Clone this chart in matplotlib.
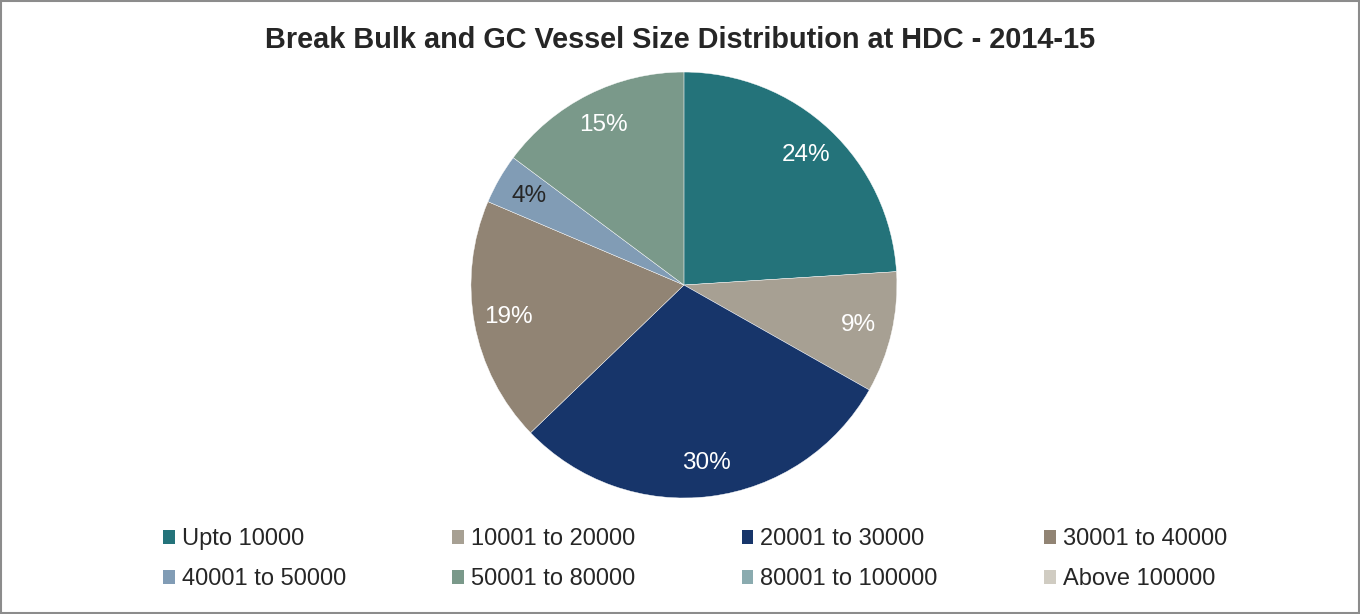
import numpy as np
import matplotlib.pyplot as plt
from matplotlib.patches import Patch, Rectangle

plt.rcParams['font.family'] = ['Liberation Sans', 'DejaVu Sans']

# vessel size classes (DWT) and share of calls, %
sizes = ["Upto 10000", "10001 to 20000", "20001 to 30000", "30001 to 40000",
         "40001 to 50000", "50001 to 80000", "80001 to 100000", "Above 100000"]
share = [24.0, 9.2, 29.6, 18.6, 3.8, 14.8, 0.0, 0.0]
colors = ["#24737a", "#a7a093", "#17356a", "#918474",
          "#819cb5", "#7a998a", "#8aabaf", "#d0ccc2"]

fig = plt.figure(figsize=[13.6, 6.14], dpi=100)
ax = fig.add_axes([0.3463, 0.1889, 0.3132, 0.6938])

vals = [v for v in share if v > 0]
cols = [c for v, c in zip(share, colors) if v > 0]
wedges, texts, autotexts = ax.pie(vals, colors=cols, startangle=90, counterclock=False,
                                  autopct=lambda p: "%d%%" % round(p), pctdistance=0.84,
                                  wedgeprops=dict(linewidth=0.3, edgecolor="white"),
                                  textprops=dict(fontsize=17.5, color="white"))
autotexts[4].set_color("#262626")
ax.set_xlim(-1, 1)
ax.set_ylim(-1, 1)
ax.set_aspect("equal")

fig.text(0.5, 0.935, "Break Bulk and GC Vessel Size Distribution at HDC - 2014-15",
         ha="center", va="center", fontsize=20.8, fontweight="bold", color="#262626")

handles = [Patch(facecolor=c, edgecolor="none") for c in colors]
order = [0, 4, 1, 5, 2, 6, 3, 7]
fig.legend([handles[i] for i in order], [sizes[i] for i in order],
           loc="center", bbox_to_anchor=(0.511, 0.089), ncol=4, frameon=False,
           fontsize=17, handlelength=0.5, handleheight=0.5, handletextpad=0.3,
           columnspacing=4.5, labelspacing=0.75, labelcolor="#262626")

fig.add_artist(Rectangle((0.0005, 0.001), 0.999, 0.998, transform=fig.transFigure,
                         fill=False, edgecolor="#8c8c8c", linewidth=1.5))

plt.savefig("out.png")
